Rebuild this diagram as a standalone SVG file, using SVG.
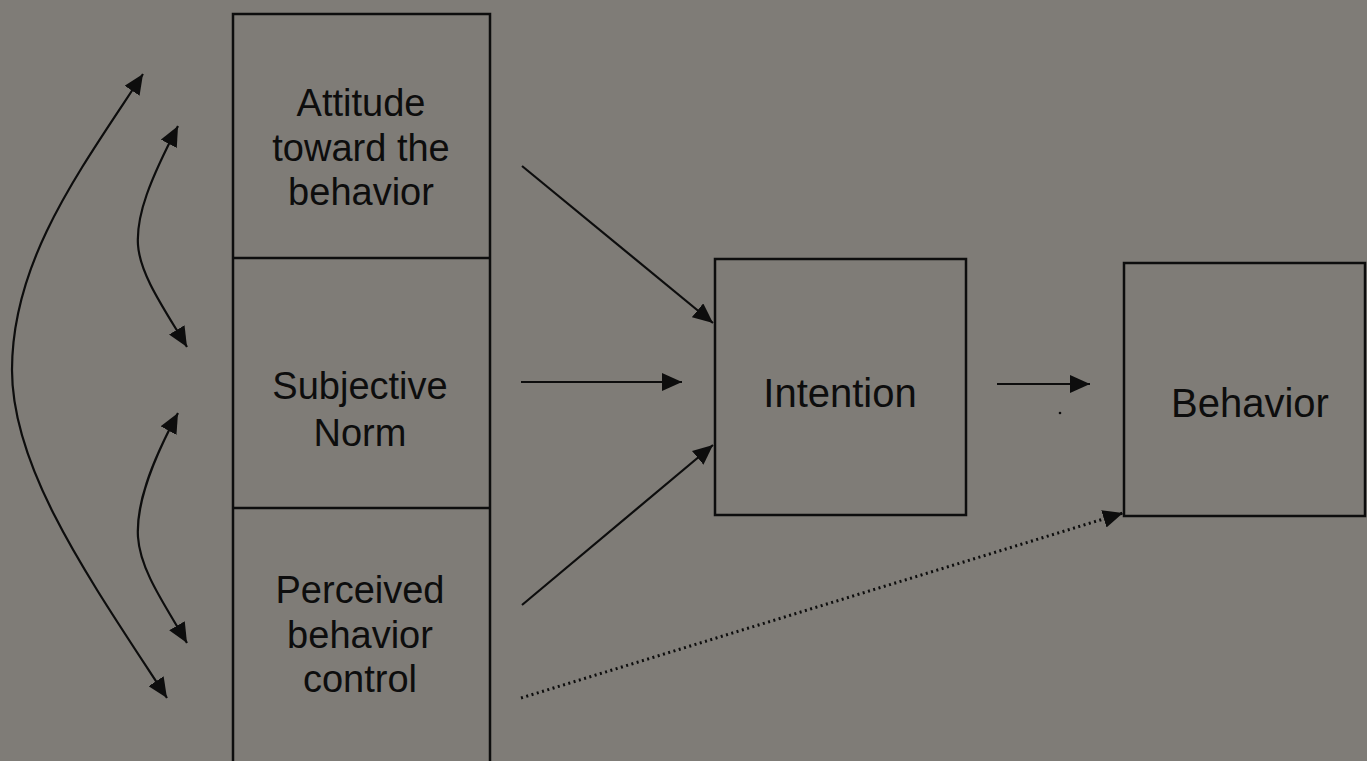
<svg xmlns="http://www.w3.org/2000/svg" width="1367" height="761" viewBox="0 0 1367 761">
<style>
.box{fill:none;stroke:#0d0d0d;stroke-width:2.5}
.lbl{font-family:"Liberation Sans",Arial,sans-serif;font-size:38px;fill:#0d0d0d;text-anchor:middle}
.big{font-size:40px}
.conn{fill:none;stroke:#0d0d0d;stroke-width:2.2}
.dot{stroke-width:3;stroke-dasharray:2 3.5;stroke-linecap:butt}
</style>
<defs>
<marker id="ah" viewBox="0 0 20 18" refX="20" refY="9" markerWidth="20" markerHeight="18" markerUnits="userSpaceOnUse" orient="auto-start-reverse">
<path d="M0,0 L20,9 L0,18 Z" fill="#0d0d0d"/>
</marker>
</defs>
<rect width="1367" height="761" fill="#7f7c77"/>
<g id="node-left">
<path class="box" d="M233,770 V14 H490 V770"/>
<line class="box" x1="233" y1="258" x2="490" y2="258"/>
<line class="box" x1="233" y1="508" x2="490" y2="508"/>
</g>
<g id="node-attitude">
<text class="lbl" x="361" y="116">Attitude</text>
<text class="lbl" x="361" y="161">toward the</text>
<text class="lbl" x="361" y="205">behavior</text>
</g>
<g id="node-norm">
<text class="lbl" x="360" y="399">Subjective</text>
<text class="lbl" x="360" y="446">Norm</text>
</g>
<g id="node-pbc">
<text class="lbl" x="360" y="603">Perceived</text>
<text class="lbl" x="360" y="648">behavior</text>
<text class="lbl" x="360" y="692">control</text>
</g>
<g id="node-intention">
<rect class="box" x="715" y="259" width="251" height="256"/>
<text class="lbl big" x="840" y="407">Intention</text>
</g>
<g id="node-behavior">
<rect class="box" x="1124" y="263" width="241" height="253"/>
<text class="lbl big" x="1250" y="417">Behavior</text>
</g>
<g id="connectors">
<path class="conn" d="M143,74 C80,170 12,260 12,370 C12,470 90,580 167,698" marker-start="url(#ah)" marker-end="url(#ah)"/>
<path class="conn" d="M178,126 C150,180 136,215 138,245 C140,275 165,310 187,347" marker-start="url(#ah)" marker-end="url(#ah)"/>
<path class="conn" d="M178,413 C150,465 136,505 138,537 C140,570 165,605 187,643" marker-start="url(#ah)" marker-end="url(#ah)"/>
<line class="conn" x1="522" y1="166" x2="713" y2="323" marker-end="url(#ah)"/>
<line class="conn" x1="521" y1="382" x2="682" y2="382" marker-end="url(#ah)"/>
<line class="conn" x1="522" y1="605" x2="713" y2="445" marker-end="url(#ah)"/>
<line class="conn" x1="997" y1="384" x2="1090" y2="384" marker-end="url(#ah)"/>
<line class="conn dot" x1="521" y1="698" x2="1123" y2="513" marker-end="url(#ah)"/>
<circle cx="1060" cy="413" r="1.3" fill="#0d0d0d"/>
</g>
</svg>
